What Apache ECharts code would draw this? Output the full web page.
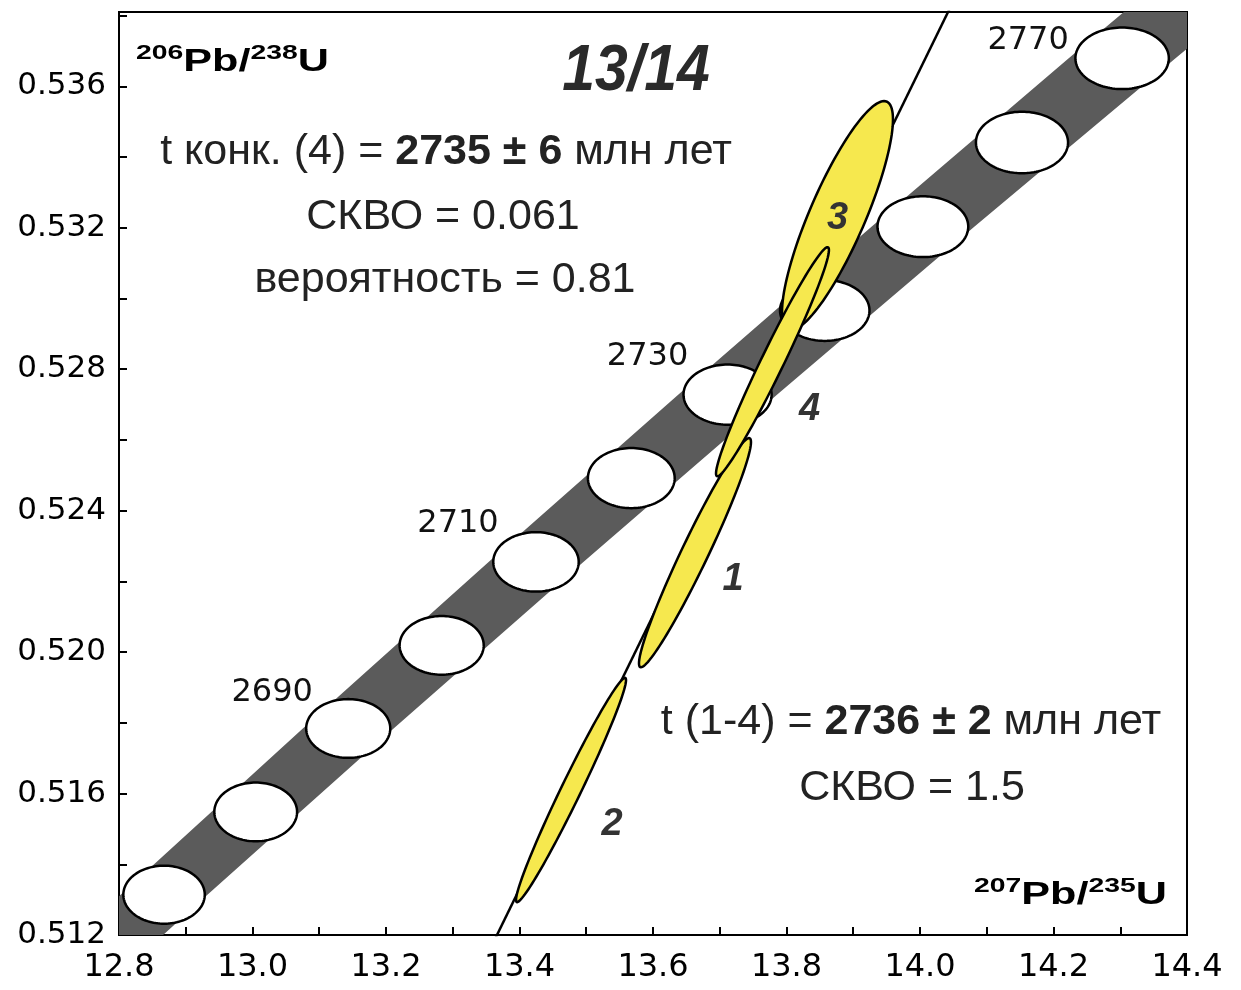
<!DOCTYPE html>
<html>
<head>
<meta charset="utf-8">
<script src="https://cdn.jsdelivr.net/npm/echarts@6/dist/echarts.min.js"></script>
<style>html,body{margin:0;background:#fff}#chart{width:1241px;height:990px}</style>
</head>
<body>
<div id="chart"></div>
<script>
// возрастные метки на конкордии (млн лет)
var markAges = [2670, 2680, 2690, 2700, 2710, 2720, 2730, 2740, 2750, 2760, 2770];
var markX = [12.8675, 13.0048, 13.1434, 13.2834, 13.4247, 13.5675, 13.7117, 13.8573, 14.0043, 14.1528, 14.3028];
var markY = [0.51314, 0.51548, 0.51784, 0.52019, 0.52255, 0.52492, 0.52728, 0.52966, 0.53203, 0.53441, 0.53679];
var markRx = [0.061, 0.062, 0.063, 0.063, 0.064, 0.065, 0.066, 0.067, 0.068, 0.069, 0.070];
var markRy = [0.00082, 0.00083, 0.00083, 0.00083, 0.00084, 0.00085, 0.00085, 0.00086, 0.00086, 0.00087, 0.00087];
var labelledAges = [2690, 2710, 2730, 2770];

// полоса конкордии
var bandX = [12.5971, 12.8675, 13.1434, 13.4247, 13.7117, 14.0043, 14.3028, 14.6072];
var bandY = [0.50845, 0.51314, 0.51784, 0.52255, 0.52728, 0.53203, 0.53679, 0.54157];
var bandHalf = [0.062, 0.065, 0.068, 0.071, 0.074, 0.077, 0.080, 0.083];

// точки анализа (эллипсы ошибок)
var spotNames = ['2', '1', '3', '4'];
var spotX = [13.4772, 13.6629, 13.8764, 13.7790];
var spotY = [0.51610, 0.52281, 0.53234, 0.52821];
var spotSx = [0.0824, 0.0839, 0.0831, 0.0846];
var spotSy = [0.00317, 0.00324, 0.00324, 0.00324];
var spotRho = [0.98, 0.965, 0.84, 0.975];

// дискордия
var discordiaX = [13.3145, 14.0912];
var discordiaY = [0.510, 0.540];

var FONT = '"Liberation Sans", Arial, sans-serif';
var ageLabelShift = {2690: [-76, -36], 2710: [-78, -38], 2730: [-80, -38], 2770: [-94, -18]};
var spotLabelShift = {'1': [38, 27], '2': [41, 35], '3': [0, 3], '4': [37, 48]};

function ellipse(api, cx, cy, sx, sy, rho) {
    var pts = [];
    var k = Math.sqrt(1 - rho * rho);
    for (var i = 0; i < 120; i++) {
        var t = i / 120 * Math.PI * 2;
        var c = Math.cos(t), s = Math.sin(t);
        pts.push(api.coord([cx + sx * c, cy + sy * (rho * c + k * s)]));
    }
    return pts;
}

var chart = echarts.init(document.getElementById('chart'));

chart.setOption({
    animation: false,
    grid: {
        left: 119, right: 54, top: 12, bottom: 55,
        show: true, borderColor: '#000', borderWidth: 2, backgroundColor: 'transparent'
    },
    xAxis: {
        type: 'value', min: 12.8, max: 14.4, interval: 0.1,
        axisLine: {show: true, onZero: false, lineStyle: {color: '#000', width: 2}},
        axisTick: {show: true, inside: true, length: 8, lineStyle: {color: '#000', width: 2}},
        splitLine: {show: false},
        axisLabel: {
            margin: 17, color: '#000', fontSize: 32, fontFamily: 'DejaVu Sans',
            formatter: function (v) {
                var k = (v - 12.8) / 0.2;
                return Math.abs(k - Math.round(k)) < 0.01 ? v.toFixed(1) : '';
            }
        }
    },
    yAxis: {
        type: 'value', min: 0.512, max: 0.5381, interval: 0.002,
        axisLine: {show: true, onZero: false, lineStyle: {color: '#000', width: 2}},
        axisTick: {show: true, inside: true, length: 8, lineStyle: {color: '#000', width: 2}},
        splitLine: {show: false},
        axisLabel: {
            margin: 13, color: '#000', fontSize: 31, fontFamily: 'DejaVu Sans',
            formatter: function (v) {
                var k = (v - 0.512) / 0.004;
                return Math.abs(k - Math.round(k)) < 0.01 ? v.toFixed(3) : '';
            }
        }
    },
    series: [
        {
            // серая полоса
            type: 'custom',
            z: 1,
            data: [[0]],
            renderItem: function (params, api) {
                var up = [], low = [];
                for (var i = 0; i < bandX.length; i++) {
                    up.push(api.coord([bandX[i] - bandHalf[i], bandY[i]]));
                    low.unshift(api.coord([bandX[i] + bandHalf[i], bandY[i]]));
                }
                var cs = params.coordSys;
                return {
                    type: 'group',
                    clipPath: {type: 'rect', shape: {x: cs.x, y: cs.y, width: cs.width, height: cs.height}},
                    children: [{
                        type: 'polygon',
                        shape: {points: up.concat(low)},
                        style: {fill: '#5b5b5b', stroke: null}
                    }]
                };
            }
        },
        {
            // белые эллипсы возрастов
            type: 'custom',
            z: 2,
            data: markAges.map(function (a, i) { return [markX[i], markY[i], markRx[i], markRy[i], a]; }),
            renderItem: function (params, api) {
                var cx = api.value(0), cy = api.value(1), age = api.value(4);
                var kids = [{
                    type: 'polygon',
                    shape: {points: ellipse(api, cx, cy, api.value(2), api.value(3), 0)},
                    style: {fill: '#fff', stroke: '#000', lineWidth: 2.5}
                }];
                if (labelledAges.indexOf(age) >= 0) {
                    var p = api.coord([cx, cy]);
                    var d = ageLabelShift[age];
                    kids.push({
                        type: 'text',
                        x: p[0] + d[0], y: p[1] + d[1],
                        style: {
                            text: String(age), fill: '#111', fontSize: 32, fontFamily: 'DejaVu Sans',
                            align: 'center', verticalAlign: 'middle'
                        }
                    });
                }
                return {type: 'group', children: kids};
            }
        },
        {
            type: 'line',
            z: 3,
            data: discordiaX.map(function (x, i) { return [x, discordiaY[i]]; }),
            showSymbol: false,
            symbol: 'none',
            clip: true,
            lineStyle: {color: '#000', width: 2.5}
        },
        {
            // эллипсы анализов
            type: 'custom',
            z: 4,
            data: spotNames.map(function (n, i) { return [spotX[i], spotY[i], spotSx[i], spotSy[i], spotRho[i]]; }),
            renderItem: function (params, api) {
                return {
                    type: 'polygon',
                    shape: {points: ellipse(api, api.value(0), api.value(1), api.value(2), api.value(3), api.value(4))},
                    style: {fill: '#f6e84e', stroke: '#000', lineWidth: 2.5}
                };
            }
        },
        {
            // номера анализов
            type: 'custom',
            z: 5,
            data: spotNames.map(function (n, i) { return [spotX[i], spotY[i], i]; }),
            renderItem: function (params, api) {
                var p = api.coord([api.value(0), api.value(1)]);
                var name = spotNames[api.value(2)];
                var d = spotLabelShift[name];
                return {
                    type: 'text',
                    x: p[0] + d[0], y: p[1] + d[1],
                    style: {
                        text: name, fill: '#333', fontSize: 38, fontWeight: 'bold', fontStyle: 'italic',
                        fontFamily: FONT, align: 'center', verticalAlign: 'middle'
                    }
                };
            }
        }
    ],
    graphic: [
        {
            type: 'text', x: 136, y: 62, scaleX: 1.35, z: 10,
            style: {
                text: '{s|206}{m|Pb/}{s|238}{m|U}',
                align: 'left', verticalAlign: 'middle',
                rich: {
                    s: {fontSize: 21, fontWeight: 'bold', fontFamily: FONT, fill: '#000', lineHeight: 16, verticalAlign: 'top'},
                    m: {fontSize: 32, fontWeight: 'bold', fontFamily: FONT, fill: '#000', lineHeight: 38}
                }
            }
        },
        {
            type: 'text', x: 1167, y: 895, scaleX: 1.35, z: 10,
            style: {
                text: '{s|207}{m|Pb/}{s|235}{m|U}',
                align: 'right', verticalAlign: 'middle',
                rich: {
                    s: {fontSize: 21, fontWeight: 'bold', fontFamily: FONT, fill: '#000', lineHeight: 16, verticalAlign: 'top'},
                    m: {fontSize: 32, fontWeight: 'bold', fontFamily: FONT, fill: '#000', lineHeight: 38}
                }
            }
        },
        {
            type: 'text', x: 636, y: 72, scaleX: 0.92, z: 10,
            style: {
                text: '13/14', fill: '#2a2a2a', fontSize: 64, fontWeight: 'bold', fontStyle: 'italic',
                fontFamily: FONT, align: 'center', verticalAlign: 'middle'
            }
        },
        {
            type: 'text', x: 446, y: 152, z: 10,
            style: {
                text: '{n|t конк. (4) = }{b|2735 ± 6}{n| млн лет}',
                align: 'center', verticalAlign: 'middle',
                rich: {
                    n: {fontSize: 43, fontFamily: FONT, fill: '#222'},
                    b: {fontSize: 43, fontWeight: 'bold', fontFamily: FONT, fill: '#222'}
                }
            }
        },
        {
            type: 'text', x: 443, y: 217, z: 10,
            style: {text: 'СКВО = 0.061', fill: '#222', fontSize: 43, fontFamily: FONT, align: 'center', verticalAlign: 'middle'}
        },
        {
            type: 'text', x: 445, y: 280, z: 10,
            style: {text: 'вероятность = 0.81', fill: '#222', fontSize: 43, fontFamily: FONT, align: 'center', verticalAlign: 'middle'}
        },
        {
            type: 'text', x: 911, y: 722, z: 10,
            style: {
                text: '{n|t (1-4) = }{b|2736 ± 2}{n| млн лет}',
                align: 'center', verticalAlign: 'middle',
                rich: {
                    n: {fontSize: 43, fontFamily: FONT, fill: '#222'},
                    b: {fontSize: 43, fontWeight: 'bold', fontFamily: FONT, fill: '#222'}
                }
            }
        },
        {
            type: 'text', x: 912, y: 788, z: 10,
            style: {text: 'СКВО = 1.5', fill: '#222', fontSize: 43, fontFamily: FONT, align: 'center', verticalAlign: 'middle'}
        }
    ]
});
</script>
</body>
</html>
